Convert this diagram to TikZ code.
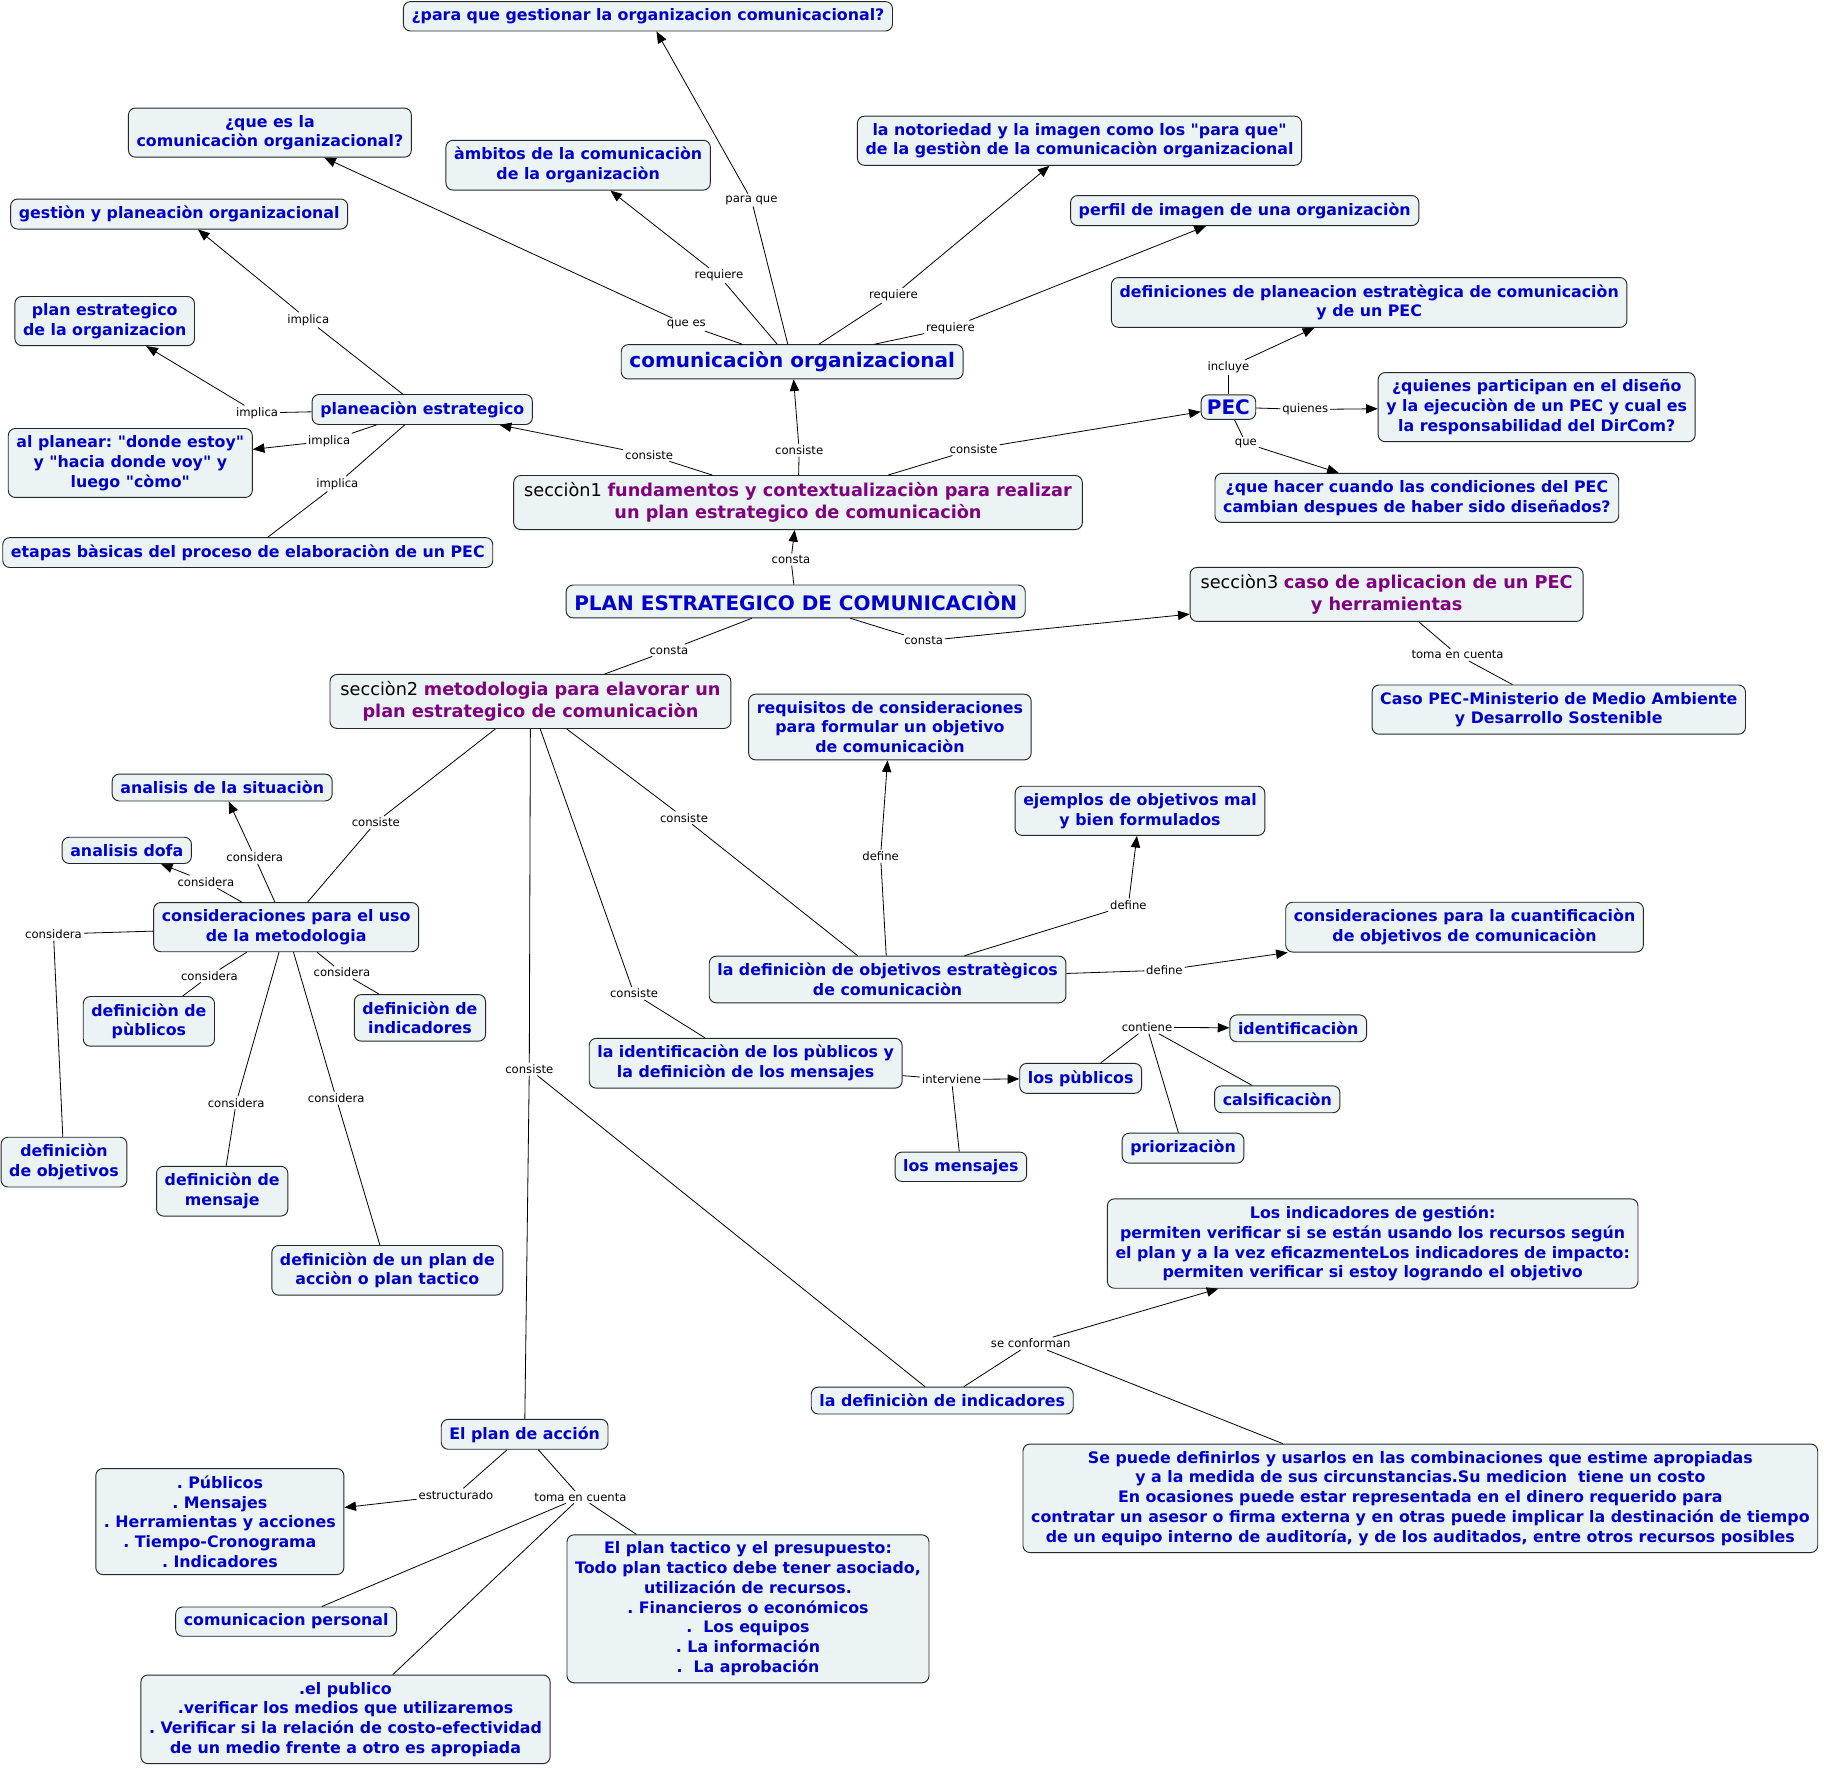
\documentclass[tikz,border=0pt]{standalone}
\usepackage{fontspec}
\setmainfont{DejaVu Sans}
\usetikzlibrary{arrows.meta}
\frenchspacing

\definecolor{cmapfill}{RGB}{235,243,245}
\definecolor{cmapblue}{RGB}{0,0,204}
\definecolor{cmappurple}{RGB}{128,0,128}

\newcommand{\sect}[1]{{\bfseries\color{cmappurple}#1}}
\newcommand{\dq}{\textquotedbl}

\begin{document}
\begin{tikzpicture}[x=1pt, y=-1pt,
    concept/.style={draw=black!85, fill=cmapfill, rounded corners=6pt, line width=0.8pt,
        text=cmapblue, font=\bfseries\fontsize{13.6}{17}\selectfont, align=center,
        inner xsep=7pt, inner ysep=6pt},
    bigconcept/.style={concept, font=\bfseries\fontsize{17.2}{21}\selectfont},
    sectionbox/.style={concept, text=black, font=\fontsize{15.2}{19}\selectfont, inner xsep=9pt},
    link/.style={font=\fontsize{10}{12}\selectfont, inner sep=1.5pt},
    conn/.style={line width=0.7pt},
    arr/.style={conn, -{Triangle[length=10pt,width=8pt]}}]
    \useasboundingbox[fill=white] (0,0) rectangle (1568,1519);

    % concepts
    \node[concept] (para) at (557,14) {¿para que gestionar la organizacion comunicacional?};
    \node[concept] (quees) at (232,114) {¿que es la\\comunicaciòn organizacional?};
    \node[concept] (ambitos) at (497,142) {àmbitos de la comunicaciòn\\de la organizaciòn};
    \node[concept] (notoriedad) at (928,121) {la notoriedad y la imagen como los \dq para que\dq\\de la gestiòn de la comunicaciòn organizacional};
    \node[concept] (perfil) at (1070,181) {perfil de imagen de una organizaciòn};
    \node[concept] (gestion) at (154,184) {gestiòn y planeaciòn organizacional};
    \node[concept] (definiciones) at (1177,260) {definiciones de planeacion estratègica de comunicaciòn\\y de un PEC};
    \node[concept] (planestr) at (90,276) {plan estrategico\\de la organizacion};
    \node[bigconcept] (comorg) at (681,311) {comunicaciòn organizacional};
    \node[concept] (planeacion) at (363,352) {planeaciòn estrategico};
    \node[concept] (alplanear) at (112,398) {al planear: \dq donde estoy\dq\\y \dq hacia donde voy\dq{} y\\luego \dq còmo\dq};
    \node[bigconcept, inner xsep=5pt, inner ysep=4pt] (pec) at (1056,350) {PEC};
    \node[concept] (quienes) at (1321,350) {¿quienes participan en el diseño\\y la ejecuciòn de un PEC y cual es\\la responsabilidad del DirCom?};
    \node[concept] (quehacer) at (1218,428) {¿que hacer cuando las condiciones del PEC\\cambian despues de haber sido diseñados?};
    \node[sectionbox] (seccion1) at (686,432) {secciòn1 \sect{fundamentos y contextualizaciòn para realizar}\\\sect{un plan estrategico de comunicaciòn}};
    \node[concept] (etapas) at (213,475) {etapas bàsicas del proceso de elaboraciòn de un PEC};
    \node[bigconcept] (plan) at (684,517) {PLAN ESTRATEGICO DE COMUNICACIÒN};
    \node[sectionbox] (seccion3) at (1192,511) {secciòn3 \sect{caso de aplicacion de un PEC}\\\sect{y herramientas}};
    \node[sectionbox] (seccion2) at (456,603) {secciòn2 \sect{metodologia para elavorar un}\\\sect{plan estrategico de comunicaciòn}};
    \node[concept] (caso) at (1340,610) {Caso PEC-Ministerio de Medio Ambiente\\y Desarrollo Sostenible};
    \node[concept] (requisitos) at (765,625) {requisitos de consideraciones\\para formular un objetivo\\de comunicaciòn};
    \node[concept] (analisis) at (191,677) {analisis de la situaciòn};
    \node[concept] (ejemplos) at (980,697) {ejemplos de objetivos mal\\y bien formulados};
    \node[concept] (dofa) at (109,731) {analisis dofa};
    \node[concept] (consid) at (246,797) {consideraciones para el uso\\de la metodologia};
    \node[concept] (cuantif) at (1259,797) {consideraciones para la cuantificaciòn\\de objetivos de comunicaciòn};
    \node[concept] (defobjestr) at (763,842) {la definiciòn de objetivos estratègicos\\de comunicaciòn};
    \node[concept] (defpub) at (128,878) {definiciòn de\\pùblicos};
    \node[concept] (defind) at (361,875) {definiciòn de\\indicadores};
    \node[concept] (identpub) at (641,914) {la identificaciòn de los pùblicos y\\la definiciòn de los mensajes};
    \node[concept] (identif) at (1116,884) {identificaciòn};
    \node[concept] (lospub) at (929,927) {los pùblicos};
    \node[concept] (calsif) at (1098,945) {calsificaciòn};
    \node[concept] (defobjs) at (55,999) {definiciòn\\de objetivos};
    \node[concept] (priori) at (1017,987) {priorizaciòn};
    \node[concept] (mensajes) at (826,1003) {los mensajes};
    \node[concept] (defmens) at (191,1024) {definiciòn de\\mensaje};
    \node[concept] (defplan) at (333,1092) {definiciòn de un plan de\\acciòn o plan tactico};
    \node[concept] (indtext) at (1180,1069) {Los indicadores de gestión:\\permiten verificar si se están usando los recursos según\\el plan y a la vez eficazmenteLos indicadores de impacto:\\permiten verificar si estoy logrando el objetivo};
    \node[concept] (defindic) at (810,1204) {la definiciòn de indicadores};
    \node[concept] (planaccion) at (451,1233) {El plan de acción};
    \node[concept] (puede) at (1221,1288) {Se puede definirlos y usarlos en las combinaciones que estime apropiadas\\y a la medida de sus circunstancias.Su medicion\ \ tiene un costo\\En ocasiones puede estar representada en el dinero requerido para\\contratar un asesor o firma externa y en otras puede implicar la destinación de tiempo\\de un equipo interno de auditoría, y de los auditados, entre otros recursos posibles};
    \node[concept] (publist) at (189,1308) {. Públicos\\. Mensajes\\. Herramientas y acciones\\. Tiempo-Cronograma\\. Indicadores};
    \node[concept] (plantactico) at (643,1383) {El plan tactico y el presupuesto:\\Todo plan tactico debe tener asociado,\\utilización de recursos.\\. Financieros o económicos\\.\ \ Los equipos\\. La información\\.\ \ La aprobación};
    \node[concept] (compers) at (246,1394) {comunicacion personal};
    \node[concept] (elpublico) at (297,1478) {.el publico\\.verificar los medios que utilizaremos\\. Verificar si la relación de costo-efectividad\\de un medio frente a otro es apropiada};

    % comunicaciòn organizacional
    \node[link] (lparaque) at (646,172) {para que};
    \node[link] (lquees) at (590,279) {que es};
    \node[link] (lreqa) at (618,237) {requiere};
    \node[link] (lreqb) at (768,254) {requiere};
    \node[link] (lreqc) at (817,282) {requiere};
    \draw[conn] (comorg) -- (lparaque);
    \draw[arr] (lparaque) -- (para);
    \draw[conn] (comorg) -- (lquees);
    \draw[arr] (lquees) -- (quees);
    \draw[conn] (comorg) -- (lreqa);
    \draw[arr] (lreqa) -- (ambitos);
    \draw[conn] (comorg) -- (lreqb);
    \draw[arr] (lreqb) -- (notoriedad);
    \draw[conn] (comorg) -- (lreqc);
    \draw[arr] (lreqc) -- (perfil);

    % secciòn1
    \node[link] (lconsa) at (687,387) {consiste};
    \node[link] (lconsb) at (558,391) {consiste};
    \node[link] (lconsc) at (837,386) {consiste};
    \draw[conn] (seccion1) -- (lconsa);
    \draw[arr] (lconsa) -- (comorg);
    \draw[conn] (seccion1) -- (lconsb);
    \draw[arr] (lconsb) -- (planeacion);
    \draw[conn] (seccion1) -- (lconsc);
    \draw[arr] (lconsc) -- (pec);

    % planeaciòn estrategico
    \node[link] (limpa) at (265,275) {implica};
    \node[link] (limpb) at (221,355) {implica};
    \node[link] (limpc) at (283,379) {implica};
    \node[link] (limpd) at (290,416) {implica};
    \draw[conn] (planeacion) -- (limpa);
    \draw[arr] (limpa) -- (gestion);
    \draw[conn] (planeacion) -- (limpb);
    \draw[arr] (limpb) -- (planestr);
    \draw[conn] (planeacion) -- (limpc);
    \draw[arr] (limpc) -- (alplanear);
    \draw[conn] (planeacion) -- (limpd);
    \draw[conn] (limpd) -- (etapas);

    % PEC
    \node[link] (lincluye) at (1056,316) {incluye};
    \node[link] (lquienes) at (1122,352) {quienes};
    \node[link] (lque) at (1071,381) {que};
    \draw[conn] (pec) -- (lincluye);
    \draw[arr] (lincluye) -- (definiciones);
    \draw[conn] (pec) -- (lquienes);
    \draw[arr] (lquienes) -- (quienes);
    \draw[conn] (pec) -- (lque);
    \draw[arr] (lque) -- (quehacer);

    % plan estrategico
    \node[link] (lconstaa) at (680,481) {consta};
    \node[link] (lconstab) at (575,559) {consta};
    \node[link] (lconstac) at (794,551) {consta};
    \draw[conn] (plan) -- (lconstaa);
    \draw[arr] (lconstaa) -- (seccion1);
    \draw[conn] (plan) -- (lconstab);
    \draw[conn] (lconstab) -- (seccion2);
    \draw[conn] (plan) -- (lconstac);
    \draw[arr] (lconstac) -- (seccion3);

    % secciòn3
    \node[link] (ltomaa) at (1253,563) {toma en cuenta};
    \draw[conn] (seccion3) -- (ltomaa);
    \draw[conn] (ltomaa) -- (caso);

    % secciòn2
    \node[link] (lconsd) at (323,707) {consiste};
    \node[link] (lconse) at (588,703) {consiste};
    \node[link] (lconsf) at (545,854) {consiste};
    \node[link] (lconsg) at (455,919) {consiste};
    \draw[conn] (seccion2) -- (lconsd);
    \draw[conn] (lconsd) -- (consid);
    \draw[conn] (seccion2) -- (lconse);
    \draw[conn] (lconse) -- (defobjestr);
    \draw[conn] (seccion2) -- (lconsf);
    \draw[conn] (lconsf) -- (identpub);
    \draw[conn] (seccion2) -- (lconsg);
    \draw[conn] (lconsg) -- (defindic);
    \draw[conn] (lconsg) -- (planaccion);

    % consideraciones para el uso
    \node[link] (lcona) at (219,737) {considera};
    \node[link] (lconb) at (177,758) {considera};
    \node[link] (lconc) at (46,803) {considera};
    \node[link] (lcond) at (180,839) {considera};
    \node[link] (lcone) at (294,836) {considera};
    \node[link] (lconf) at (203,948) {considera};
    \node[link] (lcong) at (289,944) {considera};
    \draw[conn] (consid) -- (lcona);
    \draw[arr] (lcona) -- (analisis);
    \draw[conn] (consid) -- (lconb);
    \draw[arr] (lconb) -- (dofa);
    \draw[conn] (consid) -- (lconc);
    \draw[conn] (lconc) -- (defobjs);
    \draw[conn] (consid) -- (lcond);
    \draw[conn] (lcond) -- (defpub);
    \draw[conn] (consid) -- (lcone);
    \draw[conn] (lcone) -- (defind);
    \draw[conn] (consid) -- (lconf);
    \draw[conn] (lconf) -- (defmens);
    \draw[conn] (consid) -- (lcong);
    \draw[conn] (lcong) -- (defplan);

    % objetivos estratègicos
    \node[link] (ldefa) at (757,736) {define};
    \node[link] (ldefb) at (970,778) {define};
    \node[link] (ldefc) at (1001,834) {define};
    \draw[conn] (defobjestr) -- (ldefa);
    \draw[arr] (ldefa) -- (requisitos);
    \draw[conn] (defobjestr) -- (ldefb);
    \draw[arr] (ldefb) -- (ejemplos);
    \draw[conn] (defobjestr) -- (ldefc);
    \draw[arr] (ldefc) -- (cuantif);

    % pùblicos y mensajes
    \node[link] (linterv) at (818,928) {interviene};
    \node[link] (lcontiene) at (986,883) {contiene};
    \draw[conn] (identpub) -- (linterv);
    \draw[arr] (linterv) -- (lospub);
    \draw[conn] (linterv) -- (mensajes);
    \draw[conn] (lospub) -- (lcontiene);
    \draw[arr] (lcontiene) -- (identif);
    \draw[conn] (lcontiene) -- (calsif);
    \draw[conn] (lcontiene) -- (priori);

    % indicadores
    \node[link] (lconforman) at (886,1155) {se conforman};
    \draw[conn] (defindic) -- (lconforman);
    \draw[arr] (lconforman) -- (indtext);
    \draw[conn] (lconforman) -- (puede);

    % plan de acciòn
    \node[link] (lestruct) at (392,1285) {estructurado};
    \node[link] (ltomab) at (499,1287) {toma en cuenta};
    \draw[conn] (planaccion) -- (lestruct);
    \draw[arr] (lestruct) -- (publist);
    \draw[conn] (planaccion) -- (ltomab);
    \draw[conn] (ltomab) -- (plantactico);
    \draw[conn] (ltomab) -- (compers);
    \draw[conn] (ltomab) -- (elpublico);
\end{tikzpicture}
\end{document}
